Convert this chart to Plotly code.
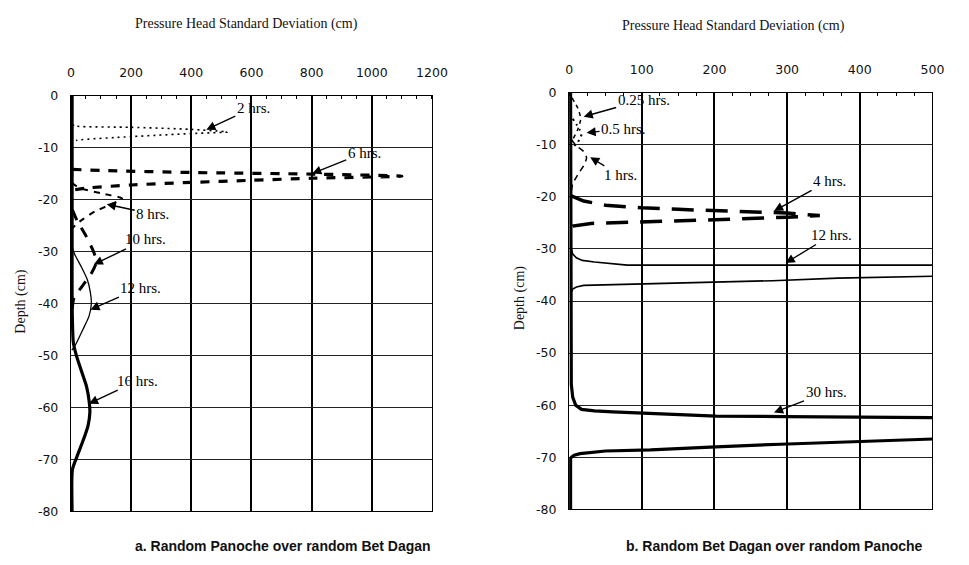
import plotly.graph_objects as go

# ---------------- data: panel a (Random Panoche over random Bet Dagan) -------------
a_2h_sd = [3, 20, 200, 400, 520, 400, 200, 20, 3]
a_2h_depth = [-5.6, -5.9, -6.1, -6.5, -7.0, -7.3, -7.9, -8.6, -9.0]

a_6h_sd = [5, 100, 400, 800, 1100, 800, 600, 400, 200, 50, 5]
a_6h_depth = [-14.2, -14.4, -14.8, -15.1, -15.5, -15.9, -16.3, -16.7, -17.2, -17.8, -18.2]

a_8h_sd = [3, 30, 100, 170, 130, 80, 30, 5]
a_8h_depth = [-16.8, -17.8, -18.8, -19.8, -21.0, -22.3, -24.2, -25.5]

a_10h_sd = [5, 20, 50, 75, 85, 70, 40, 10, 3]
a_10h_depth = [-22, -24, -27, -30, -32, -34, -36.5, -39, -42]

a_12h_sd = [3, 12, 35, 55, 65, 68, 60, 40, 15, 3]
a_12h_depth = [-29, -30.5, -33, -35.5, -38, -40, -42.5, -45, -48, -49]

a_16h_sd = [4, 4, 4, 4, 4, 8, 18, 35, 52, 61, 63, 57, 43, 20, 5, 4]
a_16h_depth = [0, -10, -20, -30, -40, -47.5, -50, -53, -56, -59, -61, -63.5, -66, -69.5, -72, -80]

# ---------------- data: panel b (Random Bet Dagan over random Panoche) -------------
b_025h_sd = [4, 12, 16, 12, 5]
b_025h_depth = [-1, -3, -5, -7, -9]

b_05h_sd = [5, 14, 17, 12, 5]
b_05h_depth = [-5, -7, -8, -9.5, -10.5]

b_1h_sd = [3, 10, 20, 24, 20, 13, 5, 3]
b_1h_depth = [-9, -10.2, -11.3, -12.5, -14, -15.5, -17.5, -19]

b_4h_sd = [3, 20, 50, 100, 150, 250, 300, 345, 300, 200, 100, 30, 5, 3]
b_4h_depth = [-19.8, -20.8, -21.6, -22.1, -22.4, -22.8, -23.1, -23.6, -23.9, -24.4, -24.8, -25.1, -25.6, -26]

b_12h_sd = [3, 5, 10, 18, 35, 60, 80, 300, 520, 520, 370, 280, 100, 40, 20, 10, 5, 3]
b_12h_depth = [-30, -31.0, -31.7, -32.2, -32.5, -32.8, -33.1, -33.1, -33.1,
               -35.2, -35.6, -36.1, -36.7, -36.9, -37.0, -37.3, -37.7, -38.3]

b_30h_sd = [2, 2, 2, 3, 5, 9, 17, 35, 60, 112, 202, 298, 400, 520,
            520, 404, 291, 202, 112, 50, 31, 15, 7, 3, 2, 2]
b_30h_depth = [0, -30, -50, -56, -58.5, -60, -60.8, -61.1, -61.3, -61.6, -62.1, -62.2, -62.3, -62.4,
               -66.4, -66.9, -67.5, -68.0, -68.6, -68.8, -69.0, -69.3, -69.6, -70.0, -70.3, -80]

x_ticks_a = [0, 200, 400, 600, 800, 1000, 1200]
x_ticks_b = [0, 100, 200, 300, 400, 500]
y_ticks = [0, -10, -20, -30, -40, -50, -60, -70, -80]

# ---------------- figure -------------
fig = go.Figure()

def add(x, y, xa, ya, width, dash, shape="spline"):
    line = dict(color="black", width=width, dash=dash, shape=shape)
    if shape == "spline":
        line["smoothing"] = 0.6
    fig.add_trace(go.Scatter(x=x, y=y, xaxis=xa, yaxis=ya, mode="lines",
                             line=line, showlegend=False, hoverinfo="skip"))

add(a_2h_sd, a_2h_depth, "x", "y", 1.6, "2px,4px")
add(a_6h_sd, a_6h_depth, "x", "y", 3.2, "9px,9px")
add(a_8h_sd, a_8h_depth, "x", "y", 2.0, "6px,6px")
add(a_10h_sd, a_10h_depth, "x", "y", 3.0, "11px,9px")
add(a_12h_sd, a_12h_depth, "x", "y", 1.3, "solid")
add(a_16h_sd, a_16h_depth, "x", "y", 3.2, "solid")

add(b_025h_sd, b_025h_depth, "x2", "y2", 1.5, "4px,4px")
add(b_05h_sd, b_05h_depth, "x2", "y2", 2.0, "2px,4px")
add(b_1h_sd, b_1h_depth, "x2", "y2", 1.5, "6px,5px")
add(b_4h_sd, b_4h_depth, "x2", "y2", 3.5, "22px,12px", "linear")
add(b_12h_sd, b_12h_depth, "x2", "y2", 1.6, "solid", "linear")
add(b_30h_sd, b_30h_depth, "x2", "y2", 3.2, "solid", "linear")

tickfont = dict(family="DejaVu Sans", size=12.5, color="#111")
xcommon = dict(side="top", showgrid=True, gridcolor="black", gridwidth=1.5,
               showline=True, mirror=True, linecolor="black", linewidth=1.2,
               ticks="outside", ticklen=13, tickcolor="rgba(0,0,0,0)",
               tickfont=tickfont, zeroline=False, fixedrange=True)
ycommon = dict(showgrid=True, gridcolor="#222", gridwidth=1,
               showline=True, mirror=True, linecolor="black", linewidth=1.2,
               ticks="outside", ticklen=9, tickcolor="rgba(0,0,0,0)",
               tickfont=tickfont, zeroline=False, range=[-80, 0],
               tickvals=y_ticks, ticktext=[str(v) for v in y_ticks], fixedrange=True)

fig.update_layout(
    width=969, height=565,
    margin=dict(l=0, r=0, t=0, b=0),
    paper_bgcolor="white", plot_bgcolor="white",
    xaxis=dict(xcommon, domain=[0.0705, 0.451], range=[0, 1200], tickvals=x_ticks_a,
               anchor="y", minor=dict(dtick=50, ticks="inside", ticklen=3, tickcolor="black", showgrid=False)),
    yaxis=dict(ycommon, domain=[0.085, 0.8407], anchor="x"),
    xaxis2=dict(xcommon, domain=[0.5955, 0.9783], range=[0, 500], tickvals=x_ticks_b,
                anchor="y2", minor=dict(dtick=25, ticks="inside", ticklen=3, tickcolor="black", showgrid=False)),
    yaxis2=dict(ycommon, domain=[0.0885, 0.846], anchor="x2"),
)

serif = "Liberation Serif"
labfont = dict(family=serif, size=15, color="black")

# arrow labels: (xref, yref, head x, head y, text, ax, ay)
labels = [
    ("x", "y", 450, -6.55, "2 hrs.", 47, -22),
    ("x", "y", 802, -15.0, "6 hrs.", 52, -21),
    ("x", "y", 119, -20.9, "8 hrs.", 46, 10),
    ("x", "y", 76, -32.5, "10 hrs.", 52, -25),
    ("x", "y", 65, -41.2, "12 hrs.", 50, -22),
    ("x", "y", 60, -59.3, "16 hrs.", 49, -23),
    ("x2", "y2", 20, -4.6, "0.25 hrs.", 60, -17),
    ("x2", "y2", 24, -7.7, "0.5 hrs.", 37, -4),
    ("x2", "y2", 29, -12.4, "1 hrs.", 30, 18),
    ("x2", "y2", 282, -22.7, "4 hrs.", 55, -30),
    ("x2", "y2", 298, -32.7, "12 hrs.", 46, -28),
    ("x2", "y2", 282, -61.4, "30 hrs.", 52, -20),
]
for xr, yr, hx, hy, txt, ax, ay in labels:
    fig.add_annotation(xref=xr, yref=yr, x=hx, y=hy, text=txt, ax=ax, ay=ay,
                       showarrow=True, arrowhead=2, arrowsize=1.3, arrowwidth=1.4,
                       arrowcolor="black", standoff=0, font=labfont, bgcolor="rgba(0,0,0,0)")

# titles and captions (paper coords)
def ptext(x_px, y_px, text, font, angle=0):
    fig.add_annotation(xref="paper", yref="paper", x=x_px / 969, y=1 - y_px / 565,
                       text=text, showarrow=False, font=font, textangle=angle,
                       xanchor="center", yanchor="middle")

titlefont = dict(family=serif, size=14, color="#111")
ptext(248, 16, "Pressure Head Standard Deviation (cm)", titlefont)
ptext(745, 18, "Pressure Head Standard Deviation (cm)", titlefont)
ptext(17, 302, "Depth (cm)", dict(family=serif, size=14, color="#111"), angle=-90)
ptext(527, 298, "Depth (cm)", dict(family=serif, size=14, color="#111"), angle=-90)
capfont = dict(family="Liberation Sans Narrow, Liberation Sans", size=14, color="#111")
ptext(285, 553, "<b>a. Random Panoche over random Bet Dagan</b>", capfont)
ptext(787, 553, "<b>b. Random Bet Dagan over random Panoche</b>", capfont)

fig.write_html("out.html")
